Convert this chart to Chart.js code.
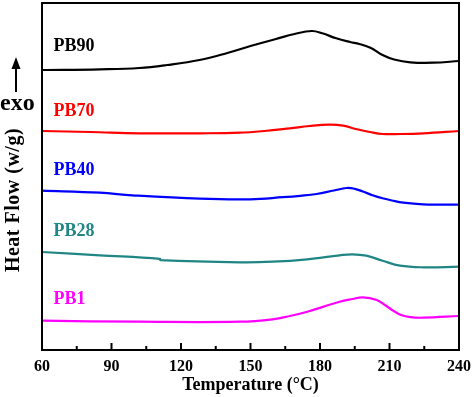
<!DOCTYPE html>
<html>
<head>
<meta charset="utf-8">
<script src="https://cdn.jsdelivr.net/npm/chart.js@4/dist/chart.umd.min.js"></script>
<style>
html,body{margin:0;padding:0;background:#fff;}
#wrap{width:474px;height:397px;position:relative;}
</style>
</head>
<body>
<div id="wrap"><canvas id="c" width="474" height="397"></canvas></div>
<script>
// Temperature (°C) and heat flow (arbitrary offset units)
const PB90_T = [60, 85, 102, 114, 128, 140, 150, 161, 169, 176.5, 181, 187, 193, 197, 202, 207, 212, 219, 229, 240];
const PB90_V = [28.0, 28.07, 28.2, 28.5, 29.0, 29.7, 30.4, 31.1, 31.6, 31.9, 31.67, 31.17, 30.8, 30.6, 30.2, 29.5, 29.05, 28.77, 28.73, 28.9];

const PB70_T = [60, 81, 102, 128, 145.5, 156, 167, 175.5, 184, 190, 196, 201.5, 207, 214.5, 224.5, 240];
const PB70_V = [21.9, 21.8, 21.67, 21.67, 21.73, 21.9, 22.17, 22.4, 22.53, 22.43, 22.07, 21.8, 21.6, 21.6, 21.67, 21.9];

const PB40_T = [60, 85, 99, 128, 150, 164, 171.5, 178.5, 186, 191.5, 195, 198.5, 203, 207, 211, 216, 224.5, 240];
const PB40_V = [15.93, 15.73, 15.47, 15.13, 15.07, 15.28, 15.42, 15.6, 15.95, 16.2, 16.12, 15.85, 15.45, 15.17, 14.95, 14.73, 14.57, 14.53];

const PB28_T = [60, 85, 110.9, 111.1, 145.5, 159.5, 174.5, 188.5, 194, 200, 207, 214.5, 224.5, 240];
const PB28_V = [9.8, 9.47, 9.12, 8.98, 8.77, 8.83, 9.07, 9.47, 9.57, 9.43, 8.93, 8.43, 8.27, 8.33];

const PB1_T = [60, 102, 145.5, 159.5, 167, 174.5, 188.5, 194, 198.5, 204.5, 208, 211.5, 215, 219, 224.5, 240];
const PB1_V = [2.93, 2.83, 2.83, 3.07, 3.4, 3.83, 4.83, 5.1, 5.27, 5.0, 4.5, 3.95, 3.5, 3.28, 3.23, 3.4];

const SERIES_NAMES = ['PB90', 'PB70', 'PB40', 'PB28', 'PB1'];
const SERIES_COLORS = ['#000000', '#ff0000', '#0000ff', '#1f8585', '#ff00ff'];
// label anchor (temperature, heat flow) for each curve's name
const LABEL_T = [65, 65, 65, 65, 65];
const LABEL_V = [30.4, 23.85, 18.0, 11.85, 5.05];

const X_TICKS = [60, 90, 120, 150, 180, 210, 240];
const X_MINOR = [75, 105, 135, 165, 195, 225];

const FONT = "'Liberation Serif', 'Times New Roman', serif";

function pts(T, V) { return T.map((t, i) => ({x: t, y: V[i]})); }
const allT = [PB90_T, PB70_T, PB40_T, PB28_T, PB1_T];
const allV = [PB90_V, PB70_V, PB40_V, PB28_V, PB1_V];

const datasets = SERIES_NAMES.map((n, i) => ({
  label: n,
  data: pts(allT[i], allV[i]),
  borderColor: SERIES_COLORS[i],
  backgroundColor: SERIES_COLORS[i],
  borderWidth: 2.2,
  pointRadius: 0,
  tension: 0.4,
  fill: false
}));

const decor = {
  id: 'decor',
  afterDatasetsDraw(chart) {
    const ctx = chart.ctx;
    const a = chart.chartArea;
    const xs = chart.scales.x, ys = chart.scales.y;
    ctx.save();
    ctx.strokeStyle = '#000';
    ctx.lineWidth = 2;
    ctx.strokeRect(a.left, a.top, a.right - a.left, a.bottom - a.top);
    X_TICKS.forEach(v => {
      const x = xs.getPixelForValue(v);
      ctx.beginPath(); ctx.moveTo(x, a.bottom); ctx.lineTo(x, a.bottom - 7); ctx.stroke();
    });
    X_MINOR.forEach(v => {
      const x = xs.getPixelForValue(v);
      ctx.beginPath(); ctx.moveTo(x, a.bottom); ctx.lineTo(x, a.bottom - 4); ctx.stroke();
    });
    ctx.font = 'bold 18px ' + FONT;
    ctx.textAlign = 'left';
    ctx.textBaseline = 'middle';
    SERIES_NAMES.forEach((n, i) => {
      ctx.fillStyle = SERIES_COLORS[i];
      ctx.fillText(n, xs.getPixelForValue(LABEL_T[i]), ys.getPixelForValue(LABEL_V[i]));
    });
    ctx.fillStyle = '#000';
    ctx.save();
    ctx.translate(14, 200);
    ctx.rotate(-Math.PI / 2);
    ctx.font = 'bold 20px ' + FONT;
    try { ctx.letterSpacing = '0.5px'; } catch (e) {}
    ctx.textAlign = 'center';
    ctx.textBaseline = 'middle';
    ctx.fillText('Heat Flow (w/g)', 0, 0);
    ctx.restore();
    ctx.font = 'bold 24px ' + FONT;
    ctx.textAlign = 'left';
    ctx.textBaseline = 'alphabetic';
    ctx.fillText('exo', 0, 110);
    ctx.lineWidth = 2;
    ctx.beginPath(); ctx.moveTo(16, 92); ctx.lineTo(16, 66); ctx.stroke();
    ctx.beginPath(); ctx.moveTo(16, 57); ctx.lineTo(11.5, 69); ctx.lineTo(20.5, 69); ctx.closePath(); ctx.fill();
    ctx.restore();
  }
};

new Chart(document.getElementById('c'), {
  type: 'line',
  data: { datasets },
  options: {
    responsive: false,
    animation: false,
    layout: { padding: { left: 42, right: 15, top: 3, bottom: 0 } },
    plugins: { legend: { display: false }, tooltip: { enabled: false } },
    scales: {
      x: {
        type: 'linear', min: 60, max: 240,
        afterBuildTicks(s) { s.ticks = X_TICKS.map(v => ({value: v})); },
        afterFit(s) { s.height = 47; s.paddingLeft = 0; s.paddingRight = 0; },
        grid: { display: false, drawTicks: false },
        border: { display: false },
        ticks: { padding: 7, color: '#000', font: { family: FONT, size: 16, weight: 'bold' }, maxRotation: 0 },
        title: { display: true, text: 'Temperature (°C)', color: '#000', font: { family: FONT, size: 18, weight: 'bold', lineHeight: 1.2 }, padding: { top: 0, bottom: 1 } }
      },
      y: { display: false, min: 0, max: 34.7 }
    }
  },
  plugins: [decor]
});
</script>
</body>
</html>
